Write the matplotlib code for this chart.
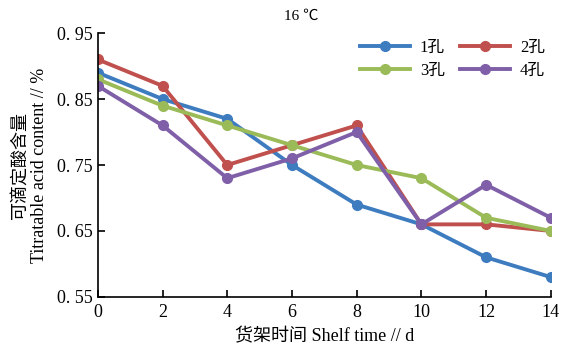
import matplotlib
matplotlib.use('Agg')
import matplotlib.pyplot as plt

plt.rcParams['font.family'] = ['Liberation Serif', 'Noto Sans CJK SC', 'DejaVu Sans']

days = [0, 2, 4, 6, 8, 10, 12, 14]
hole1 = [0.89, 0.85, 0.82, 0.75, 0.69, 0.66, 0.61, 0.58]
hole2 = [0.91, 0.87, 0.75, 0.78, 0.81, 0.66, 0.66, 0.65]
hole3 = [0.88, 0.84, 0.81, 0.78, 0.75, 0.73, 0.67, 0.65]
hole4 = [0.87, 0.81, 0.73, 0.76, 0.80, 0.66, 0.72, 0.67]
labels = ['1孔', '2孔', '3孔', '4孔']
colors = ['#3E7CC0', '#C0504D', '#9BBB59', '#7F5FA8']
yticks = [0.55, 0.65, 0.75, 0.85, 0.95]

fig = plt.figure(figsize=(5.72, 3.56), dpi=100)
ax = fig.add_axes([0.171, 0.166, 0.792, 0.741])

lines = []
for ys, lab, c in zip([hole1, hole2, hole3, hole4], labels, colors):
    ln, = ax.plot(days, ys, color=c, lw=2.8, marker='o', ms=7, label=lab)
    lines.append(ln)

ax.set_xlim(0, 14)
ax.set_ylim(0.55, 0.95)
ax.set_xticks(days)
ax.set_yticks(yticks)
ax.set_yticklabels([f'{v:.2f}'.replace('.', '. ') for v in yticks])
ax.spines['top'].set_visible(False)
ax.spines['right'].set_visible(False)
ax.spines['left'].set_linewidth(1.2)
ax.spines['bottom'].set_linewidth(1.2)
ax.tick_params(direction='in', length=5, width=1.2, labelsize=13)
ax.tick_params(axis='x', pad=5)
ax.tick_params(axis='y', pad=4)

ax.set_xlabel('货架时间 Shelf time // d', fontsize=13, labelpad=5)
ax.set_ylabel('可滴定酸含量\nTitratable acid content // %', fontsize=13, labelpad=6)
ax.text(0.45, 1.04, '16 ℃', transform=ax.transAxes, ha='center', va='bottom', fontsize=11)

# row-wise legend order: 1,2 / 3,4
order = [0, 2, 1, 3]
ax.legend([lines[i] for i in order], [labels[i] for i in order], ncol=2,
          loc='upper right', frameon=False, fontsize=12,
          bbox_to_anchor=(1.02, 1.03), handlelength=3.0, columnspacing=0.9,
          handletextpad=0.6, labelspacing=0.4)

fig.savefig('out.png', dpi=100, facecolor='white')
